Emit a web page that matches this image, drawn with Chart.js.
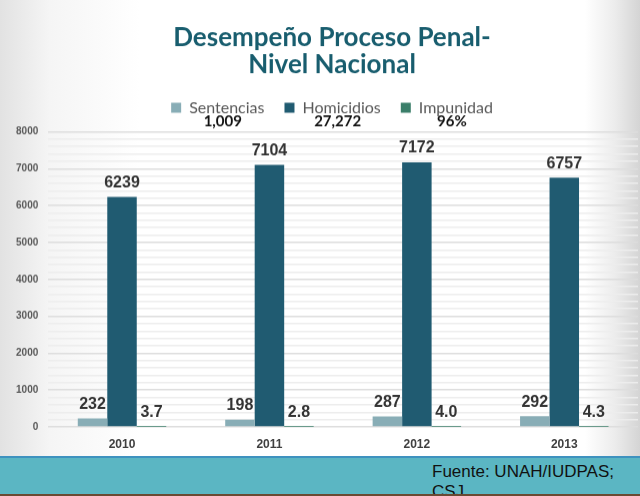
<!DOCTYPE html>
<html lang="es">
<head>
<meta charset="utf-8">
<title>Desempeño Proceso Penal - Nivel Nacional</title>
<script src="https://cdn.jsdelivr.net/npm/chart.js@4.4.1/dist/chart.umd.min.js"></script>
<style>
  html, body { margin: 0; padding: 0; }
  body {
    width: 640px; height: 496px; overflow: hidden; position: relative;
    background: linear-gradient(to right, #e2e2e2 0px, #f5f5f5 50px, #ffffff 140px, #ffffff 585px, #ececec 615px, #d4d4d4 640px);
  }
  #chart-box { position: absolute; left: 0; top: 0; width: 640px; height: 460.5px; }
  #band-line { position: absolute; left: 0; top: 455.7px; width: 640px; height: 2.6px; background: #3e92bf; }
  #band { position: absolute; left: 0; top: 458.3px; width: 640px; height: 35.7px; background: #5bb6c3; overflow: hidden; }
  #band p {
    margin: 0; position: absolute; left: 432px; top: 4px;
    font: 17px "Liberation Sans", Arial, sans-serif; line-height: 20px; color: #111;
  }
  #floor { position: absolute; left: 0; top: 494px; width: 640px; height: 2px; background: #6a4a33; }
</style>
</head>
<body>
<div id="chart-box"><canvas id="penalChart"></canvas></div>
<div id="band-line"></div>
<div id="band"><p>Fuente: UNAH/IUDPAS;<br>CSJ</p></div>
<div id="floor"></div>

<script>
// data
const years = ['2010', '2011', '2012', '2013'];
const sentencias = [232, 198, 287, 292];
const homicidios = [6239, 7104, 7172, 6757];
const impunidad = [3.7, 2.8, 4.0, 4.3];
const seriesNames = ['Sentencias', 'Homicidios', 'Impunidad'];
const totals = ['1,009', '27,272', '96%'];
const yMax = 8000;

// numbers above every bar
const barLabels = {
  id: 'barLabels',
  afterDatasetsDraw(chart) {
    const ctx = chart.ctx;
    ctx.save();
    ctx.font = 'bold 16px "Liberation Sans", Arial, sans-serif';
    ctx.fillStyle = '#333333';
    ctx.textAlign = 'center';
    ctx.textBaseline = 'middle';
    chart.data.datasets.forEach(function (ds, i) {
      chart.getDatasetMeta(i).data.forEach(function (bar, j) {
        const v = ds.data[j];
        const txt = i === 2 ? v.toFixed(1) : String(v);
        ctx.fillText(txt, bar.x, bar.y - 14);
      });
    });
    ctx.restore();
  }
};

// totals written under the legend entries
const legendTotals = {
  id: 'legendTotals',
  beforeInit(chart) {
    const fit = chart.legend.fit;
    chart.legend.fit = function () {
      fit.call(this);
      this.height += 6;
    };
  },
  afterDraw(chart) {
    const legend = chart.legend;
    const ctx = chart.ctx;
    const boxW = legend.options.labels.boxWidth;
    const fs = legend.options.labels.font.size;
    ctx.save();
    ctx.font = fs + 'px Lato, sans-serif';
    const widths = legend.legendItems.map(it => ctx.measureText(it.text).width);
    ctx.font = 'bold 15px Lato, sans-serif';
    ctx.fillStyle = '#111111';
    ctx.textAlign = 'center';
    ctx.textBaseline = 'middle';
    legend.legendHitBoxes.forEach(function (hb, i) {
      const cx = hb.left + boxW + fs / 2 + widths[i] / 2 - 4;
      ctx.fillText(totals[i], cx, hb.top + hb.height / 2 + 13.5);
    });
    ctx.restore();
  }
};

const ctx = document.getElementById('penalChart').getContext('2d');
const penalChart = new Chart(ctx, {
  type: 'bar',
  data: {
    labels: years,
    datasets: [
      { label: seriesNames[0], data: sentencias, backgroundColor: '#88adb6' },
      { label: seriesNames[1], data: homicidios, backgroundColor: '#205b71' },
      { label: seriesNames[2], data: impunidad, backgroundColor: '#3a7e69' }
    ]
  },
  options: {
    responsive: true,
    maintainAspectRatio: false,
    animation: false,
    layout: { padding: { left: 26, right: 2, top: 0, bottom: 0 } },
    datasets: {
      bar: { barPercentage: 1, categoryPercentage: 0.6, borderWidth: 0 }
    },
    plugins: {
      title: {
        display: true,
        text: ['Desempeño Proceso Penal-', 'Nivel Nacional'],
        color: '#185d6e',
        font: { family: 'Lato, sans-serif', size: 26, weight: 'bold', lineHeight: 1.03 },
        padding: { top: 24, bottom: 2 }
      },
      legend: {
        display: true,
        labels: {
          boxWidth: 10,
          boxHeight: 10,
          padding: 20,
          color: '#595959',
          font: { family: 'Lato, sans-serif', size: 16 }
        }
      },
      tooltip: { enabled: false }
    },
    scales: {
      x: {
        grid: { display: false, drawTicks: false },
        border: { display: false },
        ticks: {
          padding: 10,
          color: '#404040',
          font: { family: '"Liberation Sans", Arial, sans-serif', size: 12, weight: 'bold' }
        }
      },
      y: {
        min: 0,
        max: yMax,
        afterFit(scale) {
          scale.width = 22.3;
          // let the tick labels run left of the narrow axis box
          scale._computeLabelArea = function () { return undefined; };
        },
        border: { display: false },
        grid: {
          drawTicks: false,
          lineWidth: 1.6,
          color: c => (c.tick && c.tick.value % 1000 === 0) ? '#dddddd' : '#ededed'
        },
        ticks: {
          stepSize: 200,
          autoSkip: false,
          padding: 10,
          color: '#595959',
          font: { family: '"Liberation Sans", Arial, sans-serif', size: 10, weight: 'bold' },
          callback: v => (v % 1000 === 0 ? String(v) : '')
        }
      }
    }
  },
  plugins: [barLabels, legendTotals]
});
</script>
</body>
</html>
